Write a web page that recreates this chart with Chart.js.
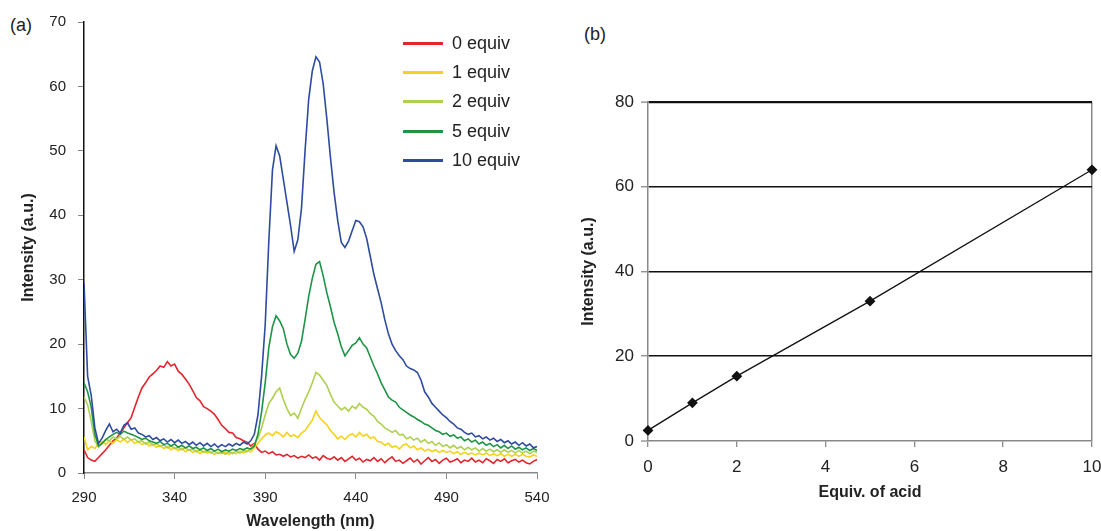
<!DOCTYPE html>
<html>
<head>
<meta charset="utf-8">
<script src="https://cdn.jsdelivr.net/npm/chart.js@4.4.1/dist/chart.umd.min.js"></script>
<style>
  html, body { margin: 0; padding: 0; background: #fff; }
  body { width: 1101px; height: 531px; position: relative; overflow: hidden; font-family: 'Liberation Sans', Arial, sans-serif; color: #222; }
  #chartA { position: absolute; left: 0; top: 0; }
  #chartB { position: absolute; left: 560px; top: 0; }
  .panel { position: absolute; font-size: 18px; line-height: 20px; }
  #legend { position: absolute; left: 403px; top: 29px; }
  .item { height: 29.2px; display: flex; align-items: center; font-size: 18px; }
  .swatch { width: 40px; height: 3px; margin-right: 9px; }
</style>
</head>
<body>
<div class="panel" style="left:10px; top:15px;">(a)</div>
<div class="panel" style="left:584px; top:24px;">(b)</div>
<canvas id="chartA" width="560" height="531"></canvas>
<canvas id="chartB" width="541" height="531"></canvas>
<div id="legend"></div>
<script>
// (a) emission spectra, one value every 2 nm
const wavelengths = [
  290, 292, 294, 296, 298, 300, 302, 304, 306, 308,
  310, 312, 314, 316, 318, 320, 322, 324, 326, 328,
  330, 332, 334, 336, 338, 340, 342, 344, 346, 348,
  350, 352, 354, 356, 358, 360, 362, 364, 366, 368,
  370, 372, 374, 376, 378, 380, 382, 384, 386, 388,
  390, 392, 394, 396, 398, 400, 402, 404, 406, 408,
  410, 412, 414, 416, 418, 420, 422, 424, 426, 428,
  430, 432, 434, 436, 438, 440, 442, 444, 446, 448,
  450, 452, 454, 456, 458, 460, 462, 464, 466, 468,
  470, 472, 474, 476, 478, 480, 482, 484, 486, 488,
  490, 492, 494, 496, 498, 500, 502, 504, 506, 508,
  510, 512, 514, 516, 518, 520, 522, 524, 526, 528,
  530, 532, 534, 536, 538, 540
];

const equiv0 = [
  3.6, 2.4, 2.0, 1.8, 2.4, 3.0, 3.6, 4.3, 5.0, 5.4,
  6.2, 7.0, 7.8, 8.6, 10.2, 11.8, 13.2, 14.0, 14.9, 15.4,
  15.9, 16.6, 16.4, 17.3, 16.6, 16.9, 15.8, 15.3, 14.6, 13.8,
  12.8, 11.7, 11.2, 10.3, 10.0, 9.6, 9.1, 8.3, 7.4, 6.9,
  6.3, 6.2, 5.5, 5.3, 5.0, 4.8, 4.2, 4.6, 3.7, 3.2,
  3.4, 3.0, 3.3, 2.8, 2.9, 2.6, 2.9, 2.5, 2.7, 2.3,
  2.6, 2.4, 2.8, 2.3, 2.5, 2.0, 2.7, 2.3, 2.1, 2.5,
  2.0, 2.4, 1.8, 2.2, 2.6, 2.0, 2.3, 1.7, 2.1, 1.9,
  2.4, 1.8, 2.2, 1.6, 2.1, 2.5, 1.8, 2.0, 1.5, 1.9,
  2.3, 1.7, 2.1, 1.4, 1.9, 2.4, 1.8, 2.1, 1.5, 2.0,
  2.3, 1.7, 1.9, 2.2, 1.6, 2.0, 1.8, 2.3, 1.7, 2.0,
  1.6, 2.2, 1.9, 1.5, 2.1, 1.8, 2.2, 1.6, 1.9, 2.1,
  1.7, 2.0, 1.6, 1.4, 1.8, 2.1
];

const equiv1 = [
  5.6, 3.6, 4.1, 3.8, 4.6, 4.9, 4.4, 5.0, 4.6, 5.2,
  4.8, 5.3, 4.7, 5.2, 4.6, 4.9, 4.4, 4.7, 4.2, 4.5,
  4.0, 4.3, 3.8, 4.1, 3.6, 3.9, 3.5, 3.8, 3.3, 3.6,
  3.2, 3.5, 3.0, 3.4, 3.1, 3.3, 2.9, 3.2, 3.0, 3.3,
  2.9, 3.2, 3.0, 3.4, 3.1, 3.5, 3.3, 3.9, 4.6, 5.3,
  5.9, 6.2, 5.8, 6.4, 6.1, 5.6, 6.3, 5.7, 5.9, 5.5,
  6.2, 6.6, 7.4, 8.2, 9.6, 8.6, 8.0, 7.5, 6.6, 6.0,
  5.3, 5.7, 5.2, 5.8, 6.1, 5.6, 6.3, 5.7, 6.0, 5.4,
  5.6, 4.9, 4.8, 4.3, 4.6, 4.0, 4.2, 3.7, 4.3, 4.5,
  3.9, 4.2, 3.6, 3.9, 3.4, 3.7, 3.3, 3.6, 3.2, 3.5,
  3.2, 3.4, 3.0, 3.3, 2.9, 3.2, 2.9, 3.1, 2.8, 3.1,
  2.8, 3.1, 2.7, 3.0, 2.7, 3.0, 2.6, 2.9, 2.6, 2.9,
  2.6, 2.9, 2.6, 2.5, 2.8, 2.6
];

const equiv2 = [
  11.8, 10.6, 8.0, 5.0, 4.0, 4.6, 5.2, 5.0, 5.6, 5.3,
  5.7, 5.2, 5.6, 5.1, 5.3, 4.8, 5.0, 4.5, 4.8, 4.3,
  4.6, 4.1, 4.4, 3.9, 4.2, 3.8, 4.0, 3.6, 3.9, 3.5,
  3.7, 3.3, 3.6, 3.2, 3.5, 3.1, 3.4, 3.0, 3.3, 2.9,
  3.3, 3.0, 3.4, 3.1, 3.5, 3.3, 3.8, 4.4, 5.4, 7.0,
  9.0, 10.8, 11.6, 12.6, 13.2, 11.4, 10.0, 8.9, 9.3, 8.5,
  10.0, 11.4, 12.6, 14.0, 15.6, 15.2, 14.4, 13.6, 12.2, 11.0,
  10.4, 9.8, 10.2, 9.6, 10.4, 10.0, 10.8, 10.2, 9.9, 9.2,
  8.8, 8.0, 7.6, 7.0, 6.7, 6.3, 6.6, 5.9, 6.0, 5.3,
  5.6, 5.1, 5.4, 4.8, 5.2, 4.6, 4.9, 4.3, 4.7, 4.1,
  4.4, 3.9, 4.3, 3.8, 4.1, 3.6, 4.0, 3.6, 3.9, 3.4,
  3.8, 3.4, 3.7, 3.3, 3.6, 3.2, 3.6, 3.2, 3.5, 3.1,
  3.5, 3.1, 3.4, 3.0, 3.4, 3.2
];

const equiv5 = [
  14.0, 12.6, 10.2, 6.0, 4.2, 4.6, 5.2, 5.6, 6.0, 6.3,
  6.0, 6.5, 6.2, 6.0, 5.8, 5.5, 5.2, 5.4, 5.0, 4.8,
  4.6, 4.9, 4.4, 4.6, 4.2, 4.5, 4.0, 4.3, 3.9, 4.2,
  3.8, 4.0, 3.6, 3.9, 3.5, 3.8, 3.4, 3.7, 3.3, 3.6,
  3.4, 3.7, 3.5, 3.8, 3.6, 3.9, 3.7, 4.2, 6.0, 9.5,
  14.0, 19.5, 22.7, 24.4, 23.6, 22.4, 20.0, 18.4, 17.8, 18.6,
  20.4, 23.8, 27.4, 30.2, 32.4, 32.8, 30.6, 28.0, 25.8, 23.4,
  21.6, 19.6, 18.2, 19.0, 19.8, 20.2, 21.0, 20.0, 19.4, 18.0,
  16.6, 15.4, 14.0, 12.9, 11.8, 11.3, 11.0, 10.2, 9.8, 9.4,
  9.0, 8.7, 8.3, 8.0, 7.6, 7.4, 7.0, 6.6, 6.4, 6.0,
  6.2, 5.7, 5.9, 5.4, 5.6, 5.0, 5.3, 4.8, 5.1, 4.5,
  4.8, 4.3, 4.6, 4.1, 4.4, 3.9, 4.3, 3.8, 4.2, 3.7,
  4.0, 3.6, 3.9, 3.5, 3.8, 3.5
];

const equiv10 = [
  29.5, 15.0, 12.0, 7.0, 4.6, 5.4, 6.6, 7.6, 6.4, 6.8,
  6.2, 7.4, 7.8, 6.8, 7.0, 6.2, 6.0, 5.6, 5.8, 5.2,
  5.5, 5.0, 5.3, 4.8, 5.2, 4.7, 5.1, 4.6, 4.9, 4.4,
  4.8, 4.3, 4.7, 4.2, 4.6, 4.1, 4.5, 4.0, 4.4, 4.1,
  4.5, 4.2, 4.6, 4.3, 4.8, 4.5, 5.0, 6.0, 9.0, 15.0,
  23.0, 36.0, 47.0, 50.8, 49.2, 45.6, 42.0, 38.4, 34.4, 36.2,
  41.0, 50.0, 58.0, 62.4, 64.6, 63.8, 60.4, 55.0, 49.0, 43.6,
  39.2, 35.8, 35.0, 36.0, 37.6, 39.2, 39.0, 38.2, 36.4, 33.6,
  30.8, 28.6, 26.4, 23.8, 21.6, 20.0, 19.0, 18.2, 17.6, 16.6,
  16.2, 16.0, 15.6, 14.4, 12.6, 11.8, 10.8, 10.2, 9.6, 9.0,
  8.6, 8.0, 7.6, 7.0, 6.8, 6.3, 6.0, 6.2, 5.6, 5.8,
  5.3, 5.6, 5.1, 5.4, 4.9, 5.2, 4.7, 5.0, 4.5, 4.8,
  4.3, 4.7, 4.2, 4.5, 3.9, 4.1
];

const seriesLabels = ['0 equiv', '1 equiv', '2 equiv', '5 equiv', '10 equiv'];
const seriesColors = ['#e3262e', '#f7d21a', '#aed04e', '#1f9447', '#2e4c9f'];
const seriesValues = [equiv0, equiv1, equiv2, equiv5, equiv10];

// (b) intensity vs equivalents of acid
const acidEquiv = [0, 1, 2, 5, 10];
const acidIntensity = [2.5, 9.0, 15.3, 33.0, 64.0];

const family = "'Liberation Sans', Arial, sans-serif";

// plot (a)
new Chart(document.getElementById('chartA'), {
  type: 'line',
  data: {
    datasets: seriesLabels.map((label, k) => ({
      label: label,
      data: wavelengths.map((w, i) => ({ x: w, y: seriesValues[k][i] })),
      borderColor: seriesColors[k],
      borderWidth: 1.6,
      pointRadius: 0,
      tension: 0,
      order: 4 - k
    }))
  },
  options: {
    responsive: false,
    animation: false,
    layout: { padding: { top: 22, right: 23, bottom: 0, left: 0 } },
    plugins: { legend: { display: false }, tooltip: { enabled: false } },
    scales: {
      x: {
        type: 'linear', min: 290, max: 540,
        ticks: { stepSize: 50, color: '#222', padding: 10, font: { family: family, size: 15 } },
        grid: { drawOnChartArea: false, tickLength: 6, color: '#888' },
        border: { color: '#888', width: 1.5 },
        title: { display: true, text: 'Wavelength (nm)', color: '#222', padding: 0,
                 font: { family: family, size: 16, weight: 'bold' } },
        afterFit: s => { s.height = 58; s.paddingLeft = 0; s.paddingRight = 0; }
      },
      y: {
        min: 0, max: 70,
        ticks: { stepSize: 10, color: '#222', padding: 12, font: { family: family, size: 15 } },
        grid: { drawOnChartArea: false, tickLength: 6, color: '#888' },
        border: { color: '#111', width: 1.5 },
        title: { display: true, text: 'Intensity (a.u.)', color: '#222', padding: { top: 19, bottom: 0 },
                 font: { family: family, size: 16, weight: 'bold' } },
        afterFit: s => { s.width = 84; s.paddingTop = 0; s.paddingBottom = 0; }
      }
    }
  }
});

// legend of (a)
const legend = document.getElementById('legend');
seriesLabels.forEach((label, k) => {
  const row = document.createElement('div');
  row.className = 'item';
  const sw = document.createElement('span');
  sw.className = 'swatch';
  sw.style.background = seriesColors[k];
  row.appendChild(sw);
  row.appendChild(document.createTextNode(label));
  legend.appendChild(row);
});

// plot (b)
new Chart(document.getElementById('chartB'), {
  type: 'scatter',
  data: {
    datasets: [{
      data: acidEquiv.map((e, i) => ({ x: e, y: acidIntensity[i] })),
      showLine: true,
      borderColor: '#111',
      borderWidth: 1.3,
      pointStyle: 'rectRot',
      pointRadius: 4.5,
      pointBackgroundColor: '#111',
      pointBorderColor: '#111',
      clip: false
    }]
  },
  options: {
    responsive: false,
    animation: false,
    layout: { padding: { top: 102, right: 9, bottom: 0, left: 0 } },
    plugins: { legend: { display: false }, tooltip: { enabled: false } },
    scales: {
      x: {
        type: 'linear', min: 0, max: 10,
        ticks: { stepSize: 2, color: '#222', padding: 10, font: { family: family, size: 17 } },
        grid: {
          tickLength: 6, tickColor: '#666', tickWidth: 1,
          color: c => c.tick && c.tick.value === 10 ? '#888' : 'rgba(0,0,0,0)',
          lineWidth: 1.5
        },
        border: { color: '#888', width: 1.5 },
        title: { display: true, text: 'Equiv. of acid', color: '#222', padding: { top: 0, bottom: 29 },
                 font: { family: family, size: 16, weight: 'bold' } },
        afterFit: s => { s.height = 90; s.paddingLeft = 0; s.paddingRight = 0; }
      },
      y: {
        min: 0, max: 80,
        ticks: { stepSize: 20, color: '#222', padding: 7, font: { family: family, size: 17 } },
        grid: {
          tickLength: 7, tickColor: '#666', tickWidth: 1,
          color: '#111',
          lineWidth: c => c.tick && c.tick.value === 0 ? 0 : (c.tick && c.tick.value === 80 ? 2.2 : 1.6)
        },
        border: { color: '#888', width: 1.5 },
        title: { display: true, text: 'Intensity (a.u.)', color: '#222', padding: { top: 19, bottom: 0 },
                 font: { family: family, size: 16, weight: 'bold' } },
        afterFit: s => { s.width = 88; s.paddingTop = 0; s.paddingBottom = 0; }
      }
    }
  }
});
</script>
</body>
</html>
